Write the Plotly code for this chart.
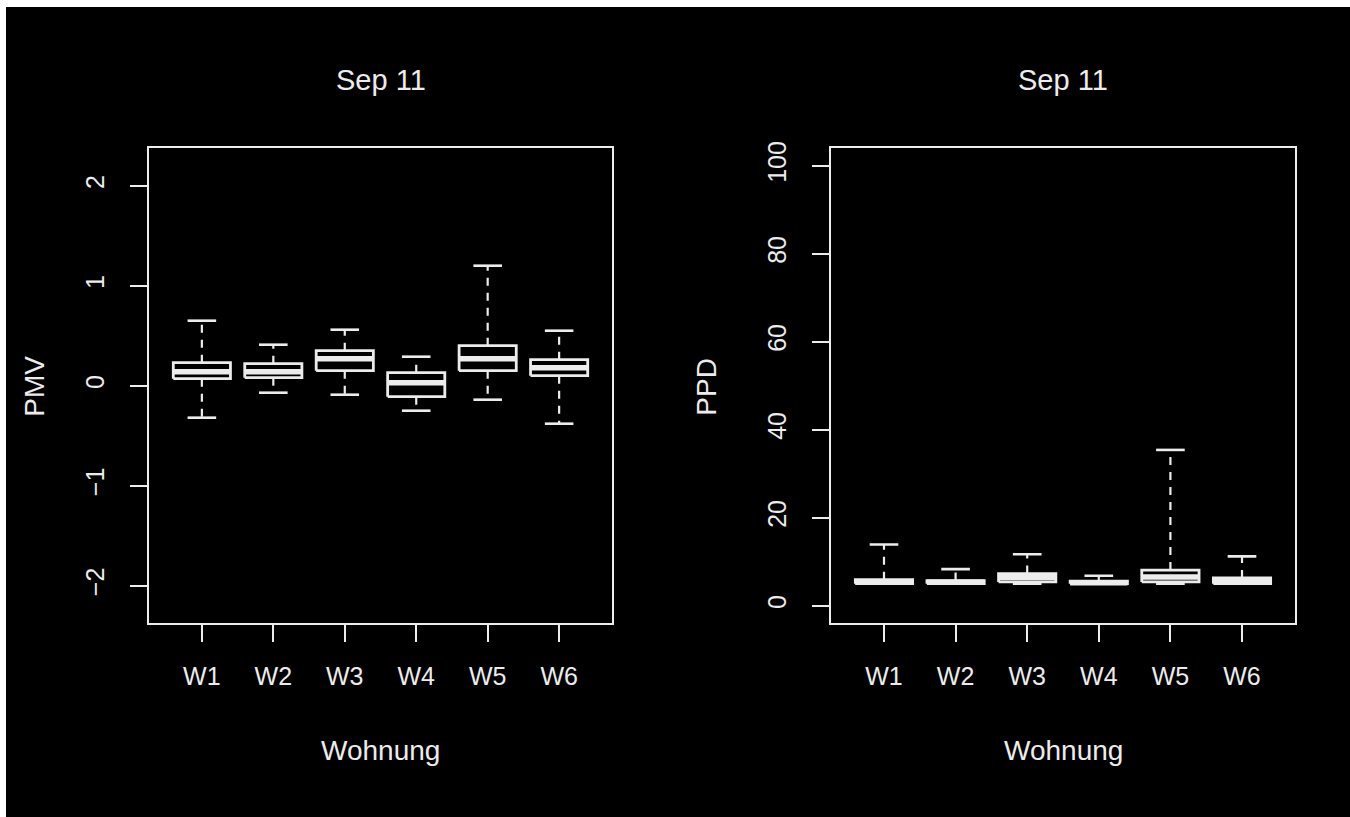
import plotly.graph_objects as go

categories = ["W1", "W2", "W3", "W4", "W5", "W6"]

# PMV box statistics
pmv_lower = [-0.32, -0.07, -0.09, -0.25, -0.14, -0.38]
pmv_q1 = [0.07, 0.08, 0.15, -0.11, 0.15, 0.10]
pmv_median = [0.14, 0.14, 0.27, 0.03, 0.27, 0.18]
pmv_q3 = [0.23, 0.22, 0.35, 0.13, 0.40, 0.26]
pmv_upper = [0.65, 0.41, 0.56, 0.29, 1.20, 0.55]

# PPD box statistics
ppd_lower = [5.0, 5.0, 5.0, 5.0, 5.0, 5.0]
ppd_q1 = [5.0, 5.0, 5.4, 5.0, 5.4, 5.0]
ppd_median = [5.4, 5.3, 6.4, 5.2, 6.5, 5.6]
ppd_q3 = [5.9, 5.7, 7.3, 5.6, 8.1, 6.3]
ppd_upper = [13.9, 8.3, 11.7, 6.8, 35.4, 11.2]

pmv_ticks = [-2, -1, 0, 1, 2]
pmv_ticktext = ["\u22122", "\u22121", "0", "1", "2"]
ppd_ticks = [0, 20, 40, 60, 80, 100]

FG = "#ececec"
FONT = "Liberation Sans"
FS_TICK = 25
FS_LAB = 28
FS_TITLE = 29

BOX_HALF = 0.4
CAP_HALF = 0.2


def box_traces(lower, q1, med, q3, upper, xa, ya):
    bx, by, mx, my, wx, wy, cx, cy = [], [], [], [], [], [], [], []
    for i in range(len(categories)):
        p = i + 1
        bx += [p - BOX_HALF, p + BOX_HALF, p + BOX_HALF, p - BOX_HALF, p - BOX_HALF, None]
        by += [q1[i], q1[i], q3[i], q3[i], q1[i], None]
        mx += [p - BOX_HALF, p + BOX_HALF, None]
        my += [med[i], med[i], None]
        wx += [p, p, None, p, p, None]
        wy += [q3[i], upper[i], None, q1[i], lower[i], None]
        cx += [p - CAP_HALF, p + CAP_HALF, None, p - CAP_HALF, p + CAP_HALF, None]
        cy += [upper[i], upper[i], None, lower[i], lower[i], None]
    common = dict(mode="lines", xaxis=xa, yaxis=ya, showlegend=False, hoverinfo="skip")
    return [
        go.Scatter(x=wx, y=wy, line=dict(color=FG, width=2.2, dash="8px,7px"), **common),
        go.Scatter(x=cx, y=cy, line=dict(color=FG, width=2.6), **common),
        go.Scatter(x=bx, y=by, line=dict(color=FG, width=2.8), **common),
        go.Scatter(x=mx, y=my, line=dict(color=FG, width=5.5), **common),
    ]


fig = go.Figure()
for t in box_traces(pmv_lower, pmv_q1, pmv_median, pmv_q3, pmv_upper, "x", "y"):
    fig.add_trace(t)
for t in box_traces(ppd_lower, ppd_q1, ppd_median, ppd_q3, ppd_upper, "x2", "y2"):
    fig.add_trace(t)

W, H = 1350, 817
axis_common = dict(
    showline=True, mirror=True, linecolor=FG, linewidth=2.2,
    ticks="outside", ticklen=17, tickwidth=2.2, tickcolor=FG,
    showgrid=False, zeroline=False,
    tickfont=dict(family=FONT, size=FS_TICK, color=FG),
)

xcat = dict(range=[0.26, 6.74], tickvals=list(range(1, len(categories) + 1)),
            ticktext=categories, ticklabelstandoff=13, **axis_common)

YDOM = [1 - 621.6 / H, 1 - 142.3 / H]

fig.update_layout(
    width=W, height=H,
    margin=dict(l=0, r=0, t=0, b=0),
    paper_bgcolor="white",
    plot_bgcolor="black",
    xaxis=dict(domain=[149 / W, 612 / W], anchor="y", **xcat),
    yaxis=dict(domain=YDOM, anchor="x", range=[-2.376, 2.376],
               tickvals=pmv_ticks, ticktext=pmv_ticktext, tickangle=-90,
               ticklabelstandoff=16, **axis_common),
    xaxis2=dict(domain=[831 / W, 1295 / W], anchor="y2", **xcat),
    yaxis2=dict(domain=YDOM, anchor="x2", range=[-4, 104],
                tickvals=ppd_ticks, tickangle=-90, ticklabelstandoff=16, **axis_common),
    shapes=[dict(type="rect", xref="paper", yref="paper", x0=6 / W, x1=1, y0=0, y1=1,
                 fillcolor="black", line=dict(width=0), layer="below")],
    annotations=[
        dict(text="Sep 11", x=380.5 / W, y=1 - 74 / H, font=dict(size=FS_TITLE)),
        dict(text="Sep 11", x=1063 / W, y=1 - 74 / H, font=dict(size=FS_TITLE)),
        dict(text="Wohnung", x=380.5 / W, y=1 - 750 / H, font=dict(size=FS_LAB)),
        dict(text="Wohnung", x=1063 / W, y=1 - 750 / H, font=dict(size=FS_LAB)),
        dict(text="PMV", x=35 / W, y=1 - 383 / H, textangle=-90, font=dict(size=FS_LAB)),
        dict(text="PPD", x=707 / W, y=1 - 383 / H, textangle=-90, font=dict(size=FS_LAB)),
    ],
)
for a in fig.layout.annotations:
    a.update(xref="paper", yref="paper", xanchor="center", yanchor="middle",
             showarrow=False, font=dict(family=FONT, color=FG))

fig.write_html(
    "out.html",
    config={"displayModeBar": False},
    post_script=(
        "document.body.style.margin='0';document.body.style.overflow='hidden';"
        "var d=document.getElementById('{plot_id}');"
        "d.style.position='absolute';d.style.top='0px';d.style.left='0px';"
    ),
)
